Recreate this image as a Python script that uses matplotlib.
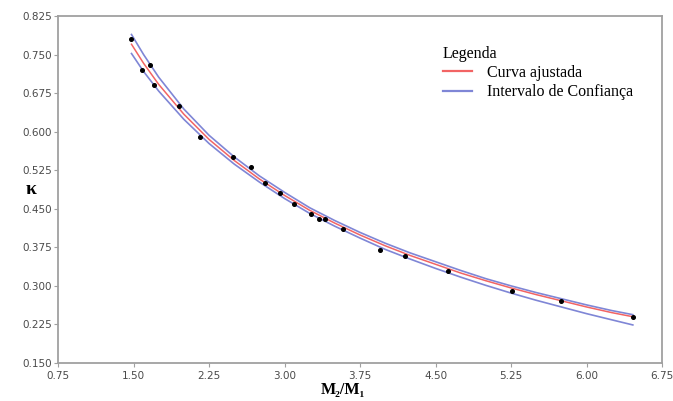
import matplotlib
matplotlib.use("Agg")
import matplotlib.pyplot as plt

# Observed data points
data_x = [1.478, 1.584, 1.664, 1.706, 1.955, 2.163, 2.49, 2.67, 2.81, 2.96,
          3.097, 3.26, 3.34, 3.40, 3.58, 3.95, 4.20, 4.62, 5.26, 5.75, 6.46]
data_y = [0.780, 0.720, 0.729, 0.690, 0.650, 0.590, 0.550, 0.531, 0.500, 0.480,
          0.460, 0.440, 0.430, 0.430, 0.410, 0.369, 0.359, 0.329, 0.290, 0.270, 0.239]

# Curves
curve_x = [1.48, 1.60, 1.75, 2.00, 2.25, 2.50, 2.75, 3.00, 3.25, 3.50, 3.75,
           4.00, 4.25, 4.50, 4.75, 5.00, 5.25, 5.50, 5.75, 6.00, 6.25, 6.46]
fit_y = [0.770, 0.733, 0.692, 0.634, 0.585, 0.544, 0.508, 0.476, 0.447, 0.422, 0.399,
         0.378, 0.359, 0.342, 0.325, 0.310, 0.296, 0.283, 0.271, 0.259, 0.248, 0.240]
upper_y = [0.789, 0.750, 0.706, 0.644, 0.593, 0.551, 0.514, 0.482, 0.452, 0.427, 0.404,
           0.383, 0.364, 0.347, 0.330, 0.314, 0.300, 0.287, 0.275, 0.263, 0.252, 0.244]
lower_y = [0.752, 0.717, 0.679, 0.624, 0.577, 0.537, 0.502, 0.470, 0.441, 0.416, 0.393,
           0.371, 0.352, 0.334, 0.317, 0.301, 0.286, 0.272, 0.259, 0.246, 0.234, 0.224]

x_ticks = [0.75, 1.50, 2.25, 3.00, 3.75, 4.50, 5.25, 6.00, 6.75]
y_ticks = [0.150, 0.225, 0.300, 0.375, 0.450, 0.525, 0.600, 0.675, 0.750, 0.825]

legend_title = "Legenda"
label_fit = "Curva ajustada"
label_ci = "Intervalo de Confiança"

fig = plt.figure(figsize=(6.73, 4.01), dpi=100)
ax = fig.add_axes([0.0862, 0.0948, 0.8975, 0.8653])

red = "#f26464"
blue = "#7f86d6"

ax.plot(curve_x, upper_y, color=blue, lw=1.2, label=label_ci, zorder=2)
ax.plot(curve_x, lower_y, color=blue, lw=1.2, zorder=2)
ax.plot(curve_x, fit_y, color=red, lw=1.1, label=label_fit, zorder=3)
ax.plot(data_x, data_y, "o", color="black", ms=2.6, zorder=4)

ax.set_xlim(0.75, 6.75)
ax.set_ylim(0.150, 0.825)
ax.set_xticks(x_ticks)
ax.set_xticklabels([f"{v:.2f}" for v in x_ticks])
ax.set_yticks(y_ticks)
ax.set_yticklabels([f"{v:.3f}" for v in y_ticks])

for s in ax.spines.values():
    s.set_color("#a0a0a0")
    s.set_linewidth(1.3)
ax.tick_params(axis="both", direction="out", length=3, width=0.8, color="#a0a0a0",
               labelsize=7.5, labelcolor="#4a4a4a")
ax.tick_params(axis="x", pad=3)
ax.tick_params(axis="y", pad=1.5)

serif = ["Liberation Serif", "DejaVu Serif"]
ax.set_xlabel("M₂/M₁", fontsize=11.5, fontweight="bold", family=serif)
ax.xaxis.set_label_coords(0.472, -0.056)
ax.set_ylabel("κ", fontsize=14, fontweight="bold", family=serif, rotation=0,
              va="center", ha="center")
ax.yaxis.set_label_coords(-0.045, 0.499)

handles, labels = ax.get_legend_handles_labels()
order = [1, 0]
leg = ax.legend([handles[i] for i in order], [labels[i] for i in order],
                title=legend_title, loc="upper left", bbox_to_anchor=(0.624, 0.937),
                frameon=False, prop={"family": serif, "size": 11.5},
                title_fontproperties={"family": serif, "size": 11.5},
                handlelength=1.8, handletextpad=0.95, labelspacing=0.2,
                borderpad=0, alignment="left")
for line in leg.get_lines():
    line.set_linewidth(1.6)

fig.savefig("out.png", dpi=100)
